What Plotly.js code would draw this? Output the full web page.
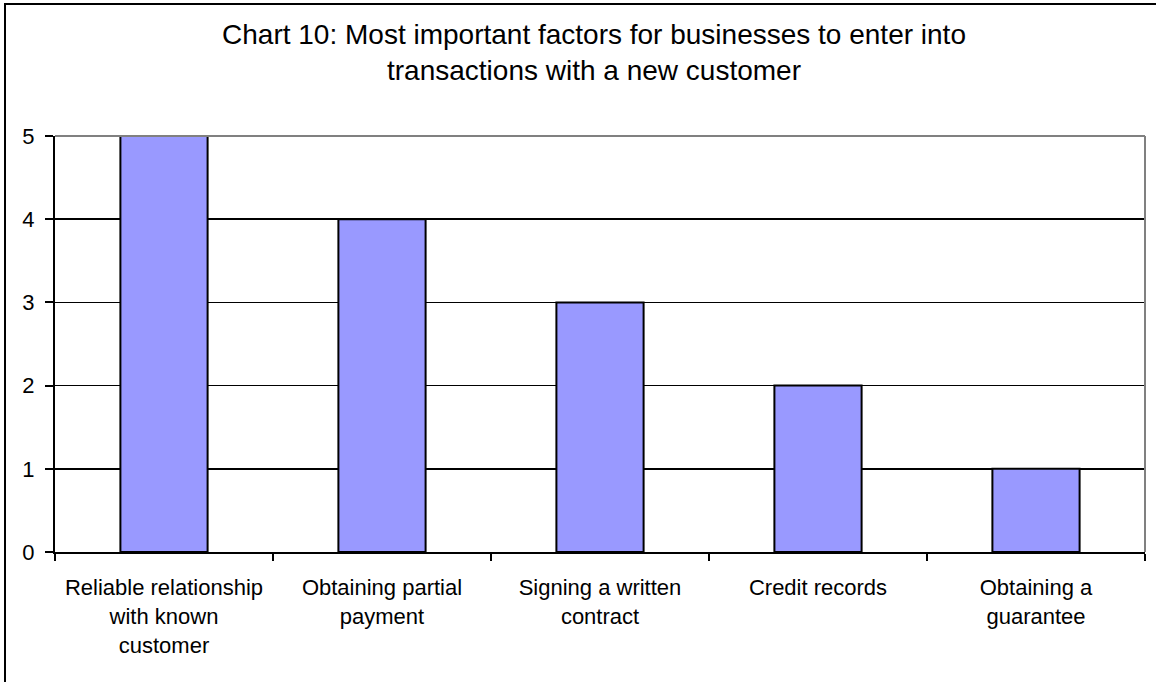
<!DOCTYPE html>
<html>
<head>
<meta charset="utf-8">
<script src="https://cdn.plot.ly/plotly-3.0.1.min.js"></script>
<style>html,body{margin:0;padding:0;background:#fff;}#chart{width:1156px;height:682px;}</style>
</head>
<body>
<div id="chart"></div>
<script>
const categories = [
  "Reliable relationship<br>with known<br>customer",
  "Obtaining partial<br>payment",
  "Signing a written<br>contract",
  "Credit records",
  "Obtaining a<br>guarantee"
];
const values = [5, 4, 3, 2, 1];
const yTicks = [0, 1, 2, 3, 4, 5];

const L = 55, R = 11, T = 136, B = 130;
const W = 1156, H = 682;
const pw = W - L - R, ph = H - T - B;
const px = v => (v - L) / pw;
const py = v => (H - B - v) / ph;

const data = [{
  type: "bar",
  x: categories,
  y: values,
  marker: {color: "#9999FF", line: {color: "#000000", width: 2}},
  width: 0.4,
  hoverinfo: "skip"
}];

const layout = {
  width: W, height: H,
  margin: {l: L, r: R, t: T, b: B, pad: 0},
  paper_bgcolor: "#ffffff",
  plot_bgcolor: "#ffffff",
  showlegend: false,
  font: {family: "Liberation Sans, Arial, sans-serif", color: "#000000", size: 22},
  title: {
    text: "Chart 10: Most important factors for businesses to enter into<br>transactions with a new customer",
    font: {size: 28, color: "#000000"},
    x: 594 / W, xref: "container", xanchor: "center",
    y: 1 - 44 / H, yref: "container", yanchor: "top"
  },
  xaxis: {
    type: "category",
    tickson: "boundaries",
    ticks: "outside", ticklen: 7, tickwidth: 2, tickcolor: "#000",
    showline: true, linecolor: "#000", linewidth: 2,
    showgrid: false, zeroline: false,
    tickfont: {size: 22},
    ticklabelstandoff: 15,
    fixedrange: true
  },
  yaxis: {
    range: [0, 5],
    tickmode: "array", tickvals: yTicks, ticktext: yTicks.map(String),
    ticks: "outside", ticklen: 8, tickwidth: 2, tickcolor: "#000",
    showline: true, linecolor: "#000", linewidth: 2,
    showgrid: true, gridcolor: "#000", gridwidth: 1.5,
    zeroline: false,
    tickfont: {size: 22},
    ticklabelstandoff: 6,
    fixedrange: true
  },
  shapes: [
    {type: "line", xref: "paper", yref: "paper", x0: 0, x1: 1, y0: 1, y1: 1,
     line: {color: "#808080", width: 2}, layer: "above"},
    {type: "line", xref: "paper", yref: "paper", x0: 1, x1: 1, y0: 0, y1: 1,
     line: {color: "#808080", width: 2}, layer: "above"},
    {type: "rect", xref: "paper", yref: "paper",
     x0: px(5), x1: px(W + 20), y0: py(H + 20), y1: py(4),
     line: {color: "#000", width: 2}, fillcolor: "rgba(0,0,0,0)", layer: "above"}
  ]
};

Plotly.newPlot("chart", data, layout, {displayModeBar: false, staticPlot: true});
</script>
</body>
</html>
